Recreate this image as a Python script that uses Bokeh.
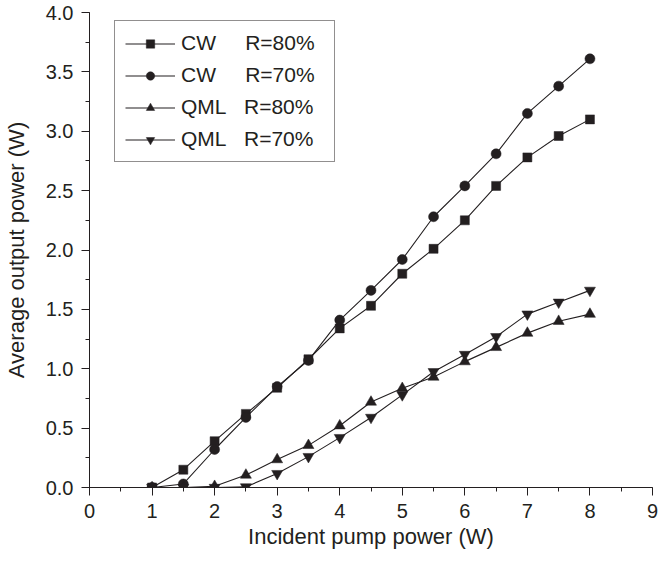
from bokeh.plotting import figure
from bokeh.models import Range1d, FixedTicker, Legend, LegendItem, PrintfTickFormatter
from bokeh.embed import file_html
from bokeh.resources import INLINE

# ---- data ----
pump = [1, 1.5, 2, 2.5, 3, 3.5, 4, 4.5, 5, 5.5, 6, 6.5, 7, 7.5, 8]
cw_r80 = [0.00, 0.15, 0.39, 0.62, 0.84, 1.08, 1.34, 1.53, 1.80, 2.01, 2.25, 2.54, 2.78, 2.96, 3.10]
cw_r70 = [0.00, 0.03, 0.32, 0.59, 0.85, 1.07, 1.41, 1.66, 1.92, 2.28, 2.54, 2.81, 3.15, 3.38, 3.61]
qml_r80 = [0.00, 0.00, 0.01, 0.105, 0.235, 0.355, 0.52, 0.72, 0.835, 0.93, 1.06, 1.18, 1.30, 1.40, 1.46]
qml_r70 = [0.00, 0.00, 0.00, 0.005, 0.117, 0.26, 0.42, 0.59, 0.78, 0.975, 1.12, 1.27, 1.46, 1.56, 1.66]

series_labels = ["CW\u00a0\u00a0\u00a0\u00a0\u00a0R=80%", "CW\u00a0\u00a0\u00a0\u00a0\u00a0R=70%",
                 "QML\u00a0\u00a0\u00a0R=80%", "QML\u00a0\u00a0\u00a0R=70%"]
series_markers = ["square", "circle", "triangle", "inverted_triangle"]
series_sizes = [9, 10, 11, 11]

x_ticks = [0, 1, 2, 3, 4, 5, 6, 7, 8, 9]
x_minor = [0.5 * k for k in range(19)]
y_ticks = [0.0, 0.5, 1.0, 1.5, 2.0, 2.5, 3.0, 3.5, 4.0]
y_minor = [0.25 * k for k in range(17)]

INK = "#231f20"
FONT = "Liberation Sans"

p = figure(width=658, height=554, output_backend="svg", toolbar_location=None,
           x_range=Range1d(0, 9), y_range=Range1d(0, 4),
           min_border_left=84, min_border_right=6, min_border_top=12, min_border_bottom=67,
           x_axis_label="Incident pump power (W)", y_axis_label="Average output power (W)")

p.grid.visible = False
p.outline_line_color = None
p.background_fill_color = "white"
p.border_fill_color = "white"

for ax in (p.xaxis[0], p.yaxis[0]):
    ax.axis_line_color = INK
    ax.axis_line_width = 1
    ax.major_tick_line_color = INK
    ax.minor_tick_line_color = INK
    ax.major_tick_out = 8
    ax.major_tick_in = 0
    ax.minor_tick_out = 4
    ax.minor_tick_in = 0
    ax.major_label_text_font = FONT
    ax.major_label_text_font_size = "20px"
    ax.major_label_text_color = INK
    ax.axis_label_text_font = FONT
    ax.axis_label_text_font_size = "22px"
    ax.axis_label_text_font_style = "normal"
    ax.axis_label_text_color = INK
    ax.major_label_standoff = 8

p.xaxis[0].ticker = FixedTicker(ticks=x_ticks, minor_ticks=x_minor)
p.yaxis[0].ticker = FixedTicker(ticks=y_ticks, minor_ticks=y_minor)
p.yaxis[0].formatter = PrintfTickFormatter(format="%.1f")
p.xaxis[0].axis_label_standoff = 3
p.yaxis[0].axis_label_standoff = 14

items = []
for ys, lab, mk, sz in zip([cw_r80, cw_r70, qml_r80, qml_r70], series_labels, series_markers, series_sizes):
    ln = p.line(pump, ys, line_color=INK, line_width=1.1)
    halo = p.scatter(x=[], y=[], marker=mk, fill_color="white", line_color="white", line_width=5)
    sc = p.scatter(pump, ys, marker=mk, size=sz, fill_color=INK, line_color=INK, line_width=0.5)
    items.append(LegendItem(label=lab, renderers=[ln, halo, sc]))

legend = Legend(items=items, location=(25, 325), glyph_width=50, glyph_height=21,
                label_height=21, label_width=143, spacing=8, padding=10, label_standoff=6,
                label_text_font=FONT, label_text_font_size="21px", label_text_color=INK,
                border_line_color=INK, border_line_width=1, background_fill_color="white",
                background_fill_alpha=1.0, margin=0)
p.add_layout(legend)

open("out.html", "w").write(file_html(p, INLINE))
